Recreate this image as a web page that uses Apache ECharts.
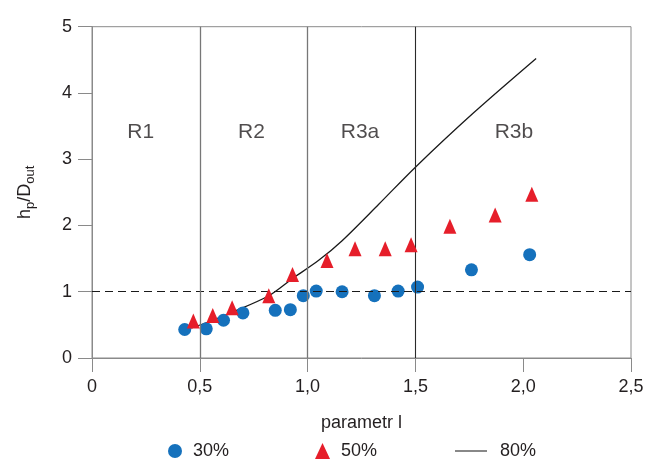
<!DOCTYPE html>
<html>
<head>
<meta charset="utf-8">
<script src="https://cdn.jsdelivr.net/npm/echarts@6/dist/echarts.min.js"></script>
<style>
  html, body { margin: 0; padding: 0; background: #fff; }
  #chart { width: 647px; height: 459px; }
</style>
</head>
<body>
<div id="chart"></div>
<script>
// 30% series (circles)
const x30 = [0.43, 0.53, 0.61, 0.70, 0.85, 0.92, 0.98, 1.04, 1.16, 1.31, 1.42, 1.51, 1.76, 2.03];
const y30 = [0.43, 0.44, 0.57, 0.68, 0.72, 0.73, 0.94, 1.01, 1.00, 0.94, 1.01, 1.07, 1.33, 1.56];
// 50% series (triangles)
const x50 = [0.47, 0.56, 0.65, 0.82, 0.93, 1.09, 1.22, 1.36, 1.48, 1.66, 1.87, 2.04];
const y50 = [0.56, 0.64, 0.76, 0.94, 1.26, 1.47, 1.65, 1.65, 1.71, 1.99, 2.16, 2.47];
// 80% curve
const x80 = [0.46, 0.56, 0.65, 0.82, 0.93, 1.05, 1.16, 1.33, 1.50, 1.77, 2.06];
const y80 = [0.45, 0.57, 0.69, 0.94, 1.20, 1.47, 1.77, 2.32, 2.88, 3.70, 4.52];
// regime labels and boundaries
const regionNames = ['R1', 'R2', 'R3a', 'R3b'];
const regionX = [0.226, 0.74, 1.243, 1.957];
const regionY = 3.41;
const boundaries = [0.5, 1.0, 1.5];
const xTickLabels = ['0', '0,5', '1,0', '1,5', '2,0', '2,5'];
const yTickLabels = ['0', '1', '2', '3', '4', '5'];
const seriesNames = ['30%', '50%', '80%'];

const FONT = 'Liberation Sans, Arial, Helvetica, sans-serif';
const TXT = '#231f20';
const AXIS = '#8a8a8a';
const BLUE = '#1571bc';
const RED = '#e61e2a';
const INK = '#1a1a1a';

const zip = (a, b) => a.map((v, i) => [v, b[i]]);

// one legend block per series so each key gets its own icon size
function legendBlock(name, icon, left, w, h, pad) {
  return {
    top: 437, left: left, itemWidth: w, itemHeight: h,
    symbolKeepAspect: true,
    textStyle: { fontSize: 18, color: TXT, fontFamily: FONT, padding: [0, 0, 0, pad] },
    data: [{ name: name, icon: icon }]
  };
}

const chart = echarts.init(document.getElementById('chart'), null, { renderer: 'canvas' });
chart.setOption({
  animation: false,
  backgroundColor: '#fff',
  textStyle: { fontFamily: FONT, color: TXT },
  grid: {
    left: 92, right: 16, top: 26.7, bottom: 101,
    show: true, borderColor: AXIS, borderWidth: 1
  },
  xAxis: {
    type: 'value', min: 0, max: 2.5, interval: 0.5,
    axisLine: { show: true, lineStyle: { color: AXIS, width: 1 } },
    axisTick: { show: true, length: 14, lineStyle: { color: AXIS, width: 1 } },
    splitLine: { show: false },
    axisLabel: {
      margin: 20, fontSize: 18, color: TXT, fontFamily: FONT,
      formatter: v => xTickLabels[Math.round(v / 0.5)]
    },
    name: 'parametr l', nameLocation: 'middle', nameGap: 56,
    nameTextStyle: { fontSize: 18, color: TXT, fontFamily: FONT }
  },
  yAxis: {
    type: 'value', min: 0, max: 5, interval: 1,
    axisLine: { show: true, lineStyle: { color: AXIS, width: 1 } },
    axisTick: { show: true, length: 14, lineStyle: { color: AXIS, width: 1 } },
    splitLine: { show: false },
    axisLabel: {
      margin: 20, fontSize: 18, color: TXT, fontFamily: FONT,
      formatter: v => yTickLabels[Math.round(v)]
    },
    name: '{a|h}{s|p}{a|/D}{s|out}', nameLocation: 'middle', nameGap: 55,
    nameTextStyle: {
      fontFamily: FONT, color: TXT,
      rich: {
        a: { fontSize: 18, lineHeight: 24, fontFamily: FONT, color: TXT },
        s: { fontSize: 13, lineHeight: 12, verticalAlign: 'bottom', fontFamily: FONT, color: TXT }
      }
    }
  },
  legend: [
    legendBlock(seriesNames[0], 'circle', 163, 14, 14, 6),
    legendBlock(seriesNames[1], 'triangle', 310, 15, 16, 6),
    legendBlock(seriesNames[2], 'path://M0,0L40,0L40,1.3L0,1.3Z', 450, 32, 14, 8)
  ],
  series: [
    {
      name: seriesNames[2], type: 'line', data: zip(x80, y80),
      symbol: 'none', smooth: 0.3, z: 3,
      lineStyle: { color: INK, width: 1.3 },
      itemStyle: { color: INK },
      markLine: {
        silent: true, symbol: 'none', label: { show: false },
        data: [
          { yAxis: 1, lineStyle: { color: INK, type: [8, 5], width: 1.2 } },
          { xAxis: boundaries[0], lineStyle: { color: '#777', type: 'solid', width: 1.3 } },
          { xAxis: boundaries[1], lineStyle: { color: '#777', type: 'solid', width: 1.3 } },
          { xAxis: boundaries[2], lineStyle: { color: '#2a2a2a', type: 'solid', width: 1.1 } }
        ]
      }
    },
    {
      name: seriesNames[0], type: 'scatter', data: zip(x30, y30),
      symbol: 'circle', symbolSize: 13, z: 4,
      itemStyle: { color: BLUE, opacity: 1 }
    },
    {
      name: seriesNames[1], type: 'scatter', data: zip(x50, y50),
      symbol: 'triangle', symbolSize: [13, 15], z: 5,
      itemStyle: { color: RED, opacity: 1 }
    },
    {
      name: 'regions', type: 'scatter', symbolSize: 0, silent: true,
      data: regionNames.map((n, i) => ({ value: [regionX[i], regionY], name: n })),
      label: {
        show: true, position: 'inside', formatter: p => p.name,
        fontSize: 21, color: TXT, fontFamily: FONT
      }
    }
  ]
});
</script>
</body>
</html>
